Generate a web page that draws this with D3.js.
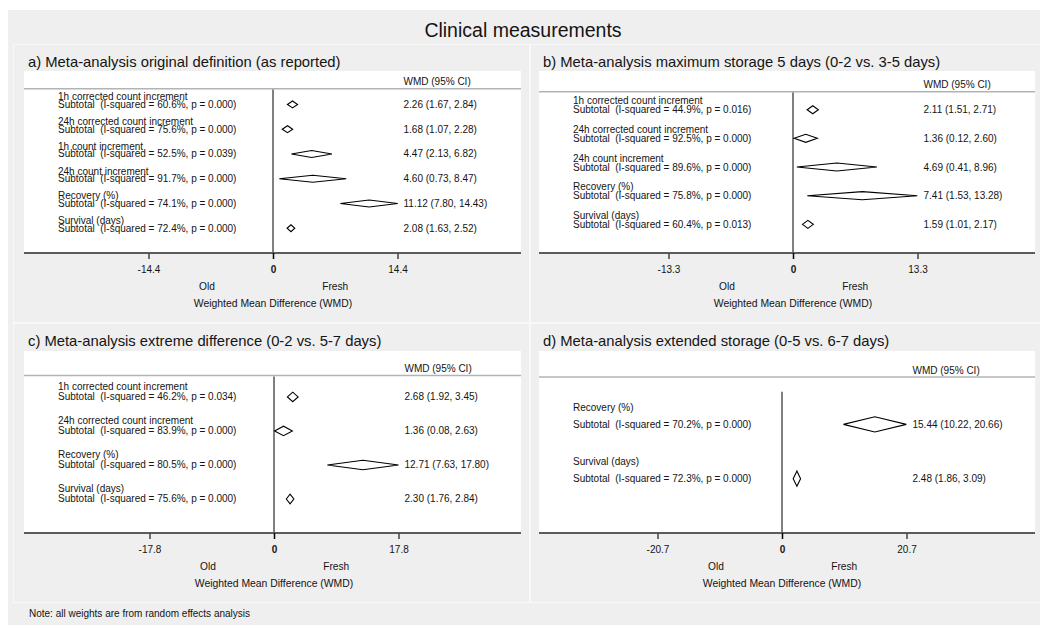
<!DOCTYPE html>
<html>
<head>
<meta charset="utf-8">
<script src="https://cdn.jsdelivr.net/npm/d3@7"></script>
<style>
  html, body { margin: 0; padding: 0; background: #ffffff; }
  svg { display: block; }
  text { font-family: "Liberation Sans", Arial, sans-serif; fill: #141414; white-space: pre; }
</style>
</head>
<body>
<svg id="chart" width="1040" height="625"></svg>
<script>
// ---- Data -----------------------------------------------------------------
const mainTitle = "Clinical measurements";
const noteText = "Note: all weights are from random effects analysis";
const panelTitles = [
  "a) Meta-analysis original definition (as reported)",
  "b) Meta-analysis maximum storage 5 days (0-2 vs. 3-5 days)",
  "c) Meta-analysis extreme difference (0-2 vs. 5-7 days)",
  "d) Meta-analysis extended storage (0-5 vs. 6-7 days)"
];

// a) original definition
const outcomesA = ["1h corrected count increment", "24h corrected count increment", "1h count increment",
                   "24h count increment", "Recovery (%)", "Survival (days)"];
const isqA = [60.6, 75.6, 52.5, 91.7, 74.1, 72.4];
const pA   = ["0.000", "0.000", "0.039", "0.000", "0.000", "0.000"];
const wmdA = [2.26, 1.68, 4.47, 4.60, 11.12, 2.08];
const loA  = [1.67, 1.07, 2.13, 0.73, 7.80, 1.63];
const hiA  = [2.84, 2.28, 6.82, 8.47, 14.43, 2.52];

// b) maximum storage 5 days
const outcomesB = ["1h corrected count increment", "24h corrected count increment", "24h count increment",
                   "Recovery (%)", "Survival (days)"];
const isqB = [44.9, 92.5, 89.6, 75.8, 60.4];
const pB   = ["0.016", "0.000", "0.000", "0.000", "0.013"];
const wmdB = [2.11, 1.36, 4.69, 7.41, 1.59];
const loB  = [1.51, 0.12, 0.41, 1.53, 1.01];
const hiB  = [2.71, 2.60, 8.96, 13.28, 2.17];

// c) extreme difference
const outcomesC = ["1h corrected count increment", "24h corrected count increment", "Recovery (%)", "Survival (days)"];
const isqC = [46.2, 83.9, 80.5, 75.6];
const pC   = ["0.034", "0.000", "0.000", "0.000"];
const wmdC = [2.68, 1.36, 12.71, 2.30];
const loC  = [1.92, 0.08, 7.63, 1.76];
const hiC  = [3.45, 2.63, 17.80, 2.84];

// d) extended storage
const outcomesD = ["Recovery (%)", "Survival (days)"];
const isqD = [70.2, 72.3];
const pD   = ["0.000", "0.000"];
const wmdD = [15.44, 2.48];
const loD  = [10.22, 1.86];
const hiD  = [20.66, 3.09];

// symmetric x-axis tick for each panel
const axisTicks = [14.4, 13.3, 17.8, 20.7];
const sideLabels = ["Old", "Fresh"];
const xAxisTitle = "Weighted Mean Difference (WMD)";
const columnHeader = "WMD (95% CI)";

// ---- Build panel tables ------------------------------------------------------
function table(outcomes, isq, p, wmd, lo, hi) {
  return outcomes.map((o, i) => ({ outcome: o, isq: isq[i], p: p[i], wmd: wmd[i], lo: lo[i], hi: hi[i] }));
}
const panelData = [
  table(outcomesA, isqA, pA, wmdA, loA, hiA),
  table(outcomesB, isqB, pB, wmdB, loB, hiB),
  table(outcomesC, isqC, pC, wmdC, loC, hiC),
  table(outcomesD, isqD, pD, wmdD, loD, hiD)
];

// ---- Layout -----------------------------------------------------------------
const layout = [
  { box: [13, 44, 530, 323],   plot: [24, 71, 521, 253],   zeroX: 273 },
  { box: [530, 44, 1047, 323], plot: [539, 71, 1035, 253], zeroX: 793 },
  { box: [13, 323, 530, 603],  plot: [24, 351, 521, 533],  zeroX: 274 },
  { box: [530, 323, 1047, 603], plot: [539, 351, 1035, 533], zeroX: 782 }
];
const halfSpan = 124.5;  // pixels from 0 to the tick value
const rowFont = "10px";

const svg = d3.select("#chart");

// outer background
svg.append("rect").attr("x", 8).attr("y", 10).attr("width", 1032).attr("height", 615).attr("fill", "#efefef");

svg.append("text").attr("x", 523).attr("y", 37).attr("text-anchor", "middle")
  .style("font-size", "19.5px").text(mainTitle);

panelData.forEach((rows, k) => {
  const L = layout[k];
  const [bx0, by0, bx1, by1] = L.box;
  const [px0, py0, px1, py1] = L.plot;
  const n = rows.length;
  const t = axisTicks[k];

  const g = svg.append("g");

  // panel frame
  g.append("rect").attr("x", bx0 + 0.5).attr("y", by0 + 0.5)
    .attr("width", bx1 - bx0 - 1).attr("height", by1 - by0 - 1)
    .attr("fill", "#efefef").attr("stroke", "#f8f8f8").attr("stroke-width", 1);

  g.append("text").attr("x", px0 + 4).attr("y", by0 + 22.5)
    .style("font-size", "14.8px").text(panelTitles[k]);

  // plot region
  g.append("rect").attr("x", px0).attr("y", py0).attr("width", px1 - px0).attr("height", py1 - py0)
    .attr("fill", "#ffffff");

  const x = d3.scaleLinear().domain([-t, t]).range([L.zeroX - halfSpan, L.zeroX + halfSpan]);
  // rows are stacked in row units above the axis (0 = axis)
  const y = d3.scaleLinear().domain([0, n + 1.35]).range([py1, py0]);
  const rowPos = (i) => n - i;

  const headerY = Math.min(y(n + 0.63), py0 + 26);
  const textX = x(t) + 6;
  const labelX = px0 + 34;

  // header rule and column title
  g.append("line").attr("x1", px0).attr("x2", px1).attr("y1", headerY).attr("y2", headerY)
    .attr("stroke", "#b3b3b3").attr("stroke-width", 1.5);
  g.append("text").attr("x", textX).attr("y", headerY - 3.5)
    .style("font-size", rowFont).text(columnHeader);

  // line of no effect
  g.append("line").attr("x1", x(0)).attr("x2", x(0)).attr("y1", y(n + 0.6)).attr("y2", py1)
    .attr("stroke", "#000").attr("stroke-width", 1);

  // row labels
  const rowG = g.selectAll("g.row").data(rows).join("g").attr("class", "row");
  rowG.append("text").attr("x", labelX).attr("y", (d, i) => y(rowPos(i) + 0.31) + 3.5)
    .style("font-size", rowFont).text(d => d.outcome);
  rowG.append("text").attr("x", labelX).attr("y", (d, i) => y(rowPos(i)) + 3.5)
    .style("font-size", rowFont)
    .text(d => `Subtotal  (I-squared = ${d.isq.toFixed(1)}%, p = ${d.p})`);
  rowG.append("text").attr("x", textX).attr("y", (d, i) => y(rowPos(i)) + 3.5)
    .style("font-size", rowFont)
    .text(d => `${d.wmd.toFixed(2)} (${d.lo.toFixed(2)}, ${d.hi.toFixed(2)})`);

  // pooled-estimate diamonds
  const dh = (y(0) - y(0.14));
  rowG.append("path")
    .attr("d", (d, i) => {
      const cy = y(rowPos(i));
      return `M${x(d.lo)},${cy}L${x(d.wmd)},${cy - dh}L${x(d.hi)},${cy}L${x(d.wmd)},${cy + dh}Z`;
    })
    .attr("fill", "#ffffff").attr("stroke", "#000").attr("stroke-width", 1.1);

  // x axis
  g.append("line").attr("x1", px0).attr("x2", px1).attr("y1", py1).attr("y2", py1)
    .attr("stroke", "#5c5c5c").attr("stroke-width", 2);
  const ax = g.append("g").attr("transform", `translate(0,${py1})`)
    .call(d3.axisBottom(x).tickValues([-t, 0, t]).tickSize(6)
      .tickFormat(v => v === 0 ? "0" : v.toFixed(1)));
  ax.select(".domain").remove();
  ax.selectAll(".tick line").attr("stroke", v => v === 0 ? "#000" : "#444").attr("stroke-width", 1.5);
  ax.selectAll(".tick text").attr("y", 19.5).attr("dy", null)
    .style("font-family", '"Liberation Sans", Arial, sans-serif')
    .style("font-size", "10px").attr("fill", "#141414")
    .style("font-weight", v => v === 0 ? "bold" : "normal");

  g.append("text").attr("x", x(-t * 0.53)).attr("y", py1 + 36.5).attr("text-anchor", "middle")
    .style("font-size", "10.2px").text(sideLabels[0]);
  g.append("text").attr("x", x(t * 0.5)).attr("y", py1 + 36.5).attr("text-anchor", "middle")
    .style("font-size", "10.2px").text(sideLabels[1]);
  g.append("text").attr("x", x(0)).attr("y", py1 + 53.5).attr("text-anchor", "middle")
    .style("font-size", "10.4px").text(xAxisTitle);
});

svg.append("text").attr("x", 29).attr("y", 616.5).style("font-size", "10px").text(noteText);
</script>
</body>
</html>
